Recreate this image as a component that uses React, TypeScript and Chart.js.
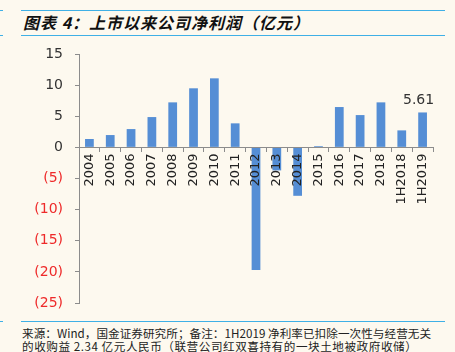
import React, { useEffect, useRef } from "react";
import { Chart, registerables } from "chart.js";

Chart.register(...registerables);

const categories = ["2004", "2005", "2006", "2007", "2008", "2009", "2010", "2011", "2012", "2013", "2014", "2015", "2016", "2017", "2018", "1H2018", "1H2019"];
const netProfit = [1.35, 1.98, 2.94, 4.87, 7.23, 9.49, 11.09, 3.86, -19.7, -3.7, -7.78, 0.2, 6.48, 5.19, 7.23, 2.73, 5.61];
const labeledIndex = 16;
const yMin = -25;
const yMax = 15;
const yStep = 5;

const titleText = "图表 4：上市以来公司净利润（亿元）";
const footLine1 = "来源：Wind，国金证券研究所；备注：1H2019 净利率已扣除一次性与经营无关";
const footLine2 = "的收购益 2.34 亿元人民币（联营公司红双喜持有的一块土地被政府收储）";

const BG = "#fdf9ef";
const BLUE_LINE = "#3fb0e6";
const BAR = "#558ed5";
const AXIS = "#8c8c8c";

const valueLabelPlugin = {
  id: "valueLabel",
  afterDatasetsDraw(chart: any) {
    const meta = chart.getDatasetMeta(0);
    const el = meta.data[labeledIndex];
    if (!el) return;
    const ctx = chart.ctx;
    ctx.save();
    ctx.font = "14px 'DejaVu Sans'";
    ctx.fillStyle = "#333333";
    ctx.textAlign = "center";
    ctx.textBaseline = "bottom";
    ctx.fillText(netProfit[labeledIndex].toFixed(2), el.x - 4, el.y - 5);
    ctx.restore();
  },
};

export default function App() {
  const ref = useRef<HTMLCanvasElement>(null);

  useEffect(() => {
    document.body.style.margin = "0";
    document.body.style.background = BG;
    const chart = new Chart(ref.current as HTMLCanvasElement, {
      type: "bar",
      data: {
        labels: categories,
        datasets: [
          {
            data: netProfit,
            backgroundColor: BAR,
            borderWidth: 0,
            categoryPercentage: 1,
            barPercentage: 0.42,
          },
        ],
      },
      options: {
        animation: false,
        responsive: false,
        maintainAspectRatio: false,
        layout: { padding: { top: 14, right: 22, bottom: 12, left: 0 } },
        plugins: { legend: { display: false }, tooltip: { enabled: false } },
        scales: {
          x: {
            position: { y: 0 } as any,
            offset: true,
            grid: {
              offset: true,
              drawOnChartArea: false,
              drawTicks: true,
              tickLength: 4,
              color: AXIS,
              z: 1,
            },
            border: { color: AXIS, width: 1, z: 1 } as any,
            ticks: {
              z: 1,
              minRotation: 90,
              maxRotation: 90,
              autoSkip: false,
              padding: 2,
              color: "#222222",
              font: { family: "'DejaVu Sans'", size: 13 },
            },
          },
          y: {
            min: yMin,
            max: yMax,
            grid: {
              drawOnChartArea: false,
              drawTicks: true,
              tickLength: 4,
              color: AXIS,
            },
            border: { color: AXIS, width: 1 },
            ticks: {
              stepSize: yStep,
              padding: 12,
              font: { family: "'DejaVu Sans'", size: 14 },
              color: (c: any) => (c.tick && c.tick.value < 0 ? "#ee2a2a" : "#333333"),
              callback: (v: any) => (Number(v) < 0 ? `(${-Number(v)})` : `${v}`),
            },
            afterFit: (s: any) => {
              s.width = 79;
              s.paddingTop = 0;
              s.paddingBottom = 0;
            },
          },
        },
      },
      plugins: [valueLabelPlugin],
    });
    return () => chart.destroy();
  }, []);

  const line = (top: number): React.CSSProperties => ({
    position: "absolute",
    left: 21,
    top,
    width: 424,
    height: 1,
    background: BLUE_LINE,
  });
  const stub = (top: number): React.CSSProperties => ({
    position: "absolute",
    left: 0,
    top,
    width: 3,
    height: 1,
    background: BLUE_LINE,
  });

  return (
    <div style={{ position: "fixed", left: 0, top: 0, width: 455, height: 352, background: BG, overflow: "hidden" }}>
      <div style={line(10)} />
      <div style={stub(10)} />
      <div style={line(35)} />
      <div style={stub(35)} />
      <div
        style={{
          position: "absolute",
          left: 23,
          top: 10,
          width: 430,
          height: 25,
          lineHeight: "25px",
          fontFamily: "'Noto Sans CJK SC', sans-serif",
          fontWeight: 700,
          fontStyle: "italic",
          fontSize: 16,
          letterSpacing: "1px",
          color: "#111111",
          whiteSpace: "nowrap",
        }}
      >
        {titleText}
      </div>
      <canvas ref={ref} width={455} height={275} style={{ position: "absolute", left: 0, top: 40, width: 455, height: 275 }} />
      <div style={line(321)} />
      <div style={stub(321)} />
      <div
        style={{
          position: "absolute",
          left: 22,
          top: 327,
          width: 440,
          fontFamily: "'Noto Sans CJK SC', sans-serif",
          fontSize: 11.6,
          lineHeight: "12.5px",
          color: "#222222",
          whiteSpace: "nowrap",
        }}
      >
        <div style={{ letterSpacing: "0.05px" }}>{footLine1}</div>
        <div style={{ letterSpacing: "0.55px" }}>{footLine2}</div>
      </div>
    </div>
  );
}
